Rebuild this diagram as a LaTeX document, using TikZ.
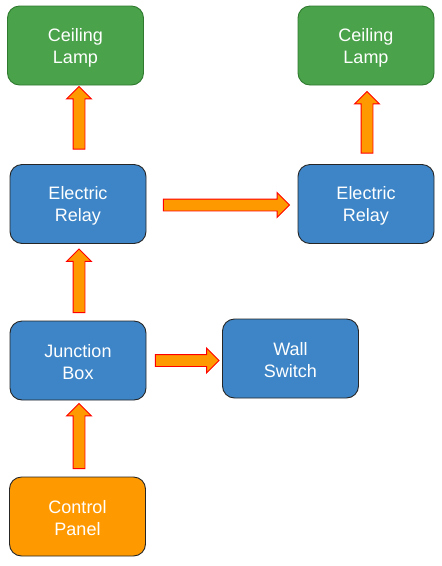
\documentclass[tikz,border=0pt]{standalone}
\usepackage{fontspec}
\setmainfont{Liberation Sans}
\usepackage{xcolor}
\usetikzlibrary{arrows.meta,positioning,calc,shapes.arrows}

\definecolor{lampgreen}{HTML}{4AA24A}
\definecolor{lampedge}{HTML}{2F7A2F}
\definecolor{relayblue}{HTML}{3D85C6}
\definecolor{panelorange}{HTML}{FF9900}

% block arrow between two points
\newcommand{\flow}[2]{%
  \path let \p1=(#1), \p2=(#2),
    \n1={veclen(\x2-\x1,\y2-\y1)}, \n2={atan2(\y2-\y1,\x2-\x1)} in
    node[flow, minimum height=\n1, rotate=\n2] at ($(\p1)!0.5!(\p2)$) {};}
% two-line label, nudged down a little
\newcommand{\twoline}[2]{\rule{0pt}{17pt}#1\\#2}

\begin{document}
\begin{tikzpicture}[
  x=1pt, y=1pt,
  font=\fontsize{18}{22}\selectfont,
  unit/.style={draw, rounded corners=12pt, align=center, text=white,
               minimum width=136pt, minimum height=79pt, inner sep=2pt,
               line width=0.9pt},
  lamp/.style={unit, fill=lampgreen, draw=lampedge},
  relay/.style={unit, fill=relayblue, draw=black!85},
  panel/.style={unit, fill=panelorange, draw=black!85},
  flow/.style={single arrow, fill=panelorange, draw=red, line width=0.9pt,
               inner xsep=0pt, inner ysep=5.5pt, single arrow head extend=6.5pt,
               shape border uses incircle=false}
]
\useasboundingbox (0,0) rectangle (442,-566);

\node[lamp]  (lampL)    at (75.5,-45.5) {\twoline{Ceiling}{Lamp}};
\node[lamp]  (lampR)    at (366,-45.5)  {\twoline{Ceiling}{Lamp}};
\node[relay] (relayL)   at (78,-204)    {\twoline{Electric}{Relay}};
\node[relay] (relayR)   at (366,-204)   {\twoline{Electric}{Relay}};
\node[relay] (junction) at (78,-360.5)  {\twoline{Junction}{Box}};
\node[relay] (wall)     at (290.5,-358.5) {\twoline{Wall}{Switch}};
\node[panel] (ctrl)     at (77.5,-516.5) {\twoline{Control}{Panel}};

\flow{$(ctrl.north)+(1.5,5)$}{$(junction.south)+(1,-6)$}
\flow{$(junction.north)+(1,5)$}{$(relayL.south)+(1,-8)$}
\flow{$(junction.east)+(6,0)$}{$(wall.west |- junction.east)+(-6,0)$}
\flow{$(relayL.north)+(1,12)$}{$(relayL.north |- lampL.south)+(1,-4)$}
\flow{$(relayL.east)+(14,-1)$}{$(relayR.west)+(-11,-1)$}
\flow{$(relayR.north)+(1,8)$}{$(lampR.south)+(1,-9)$}
\end{tikzpicture}
\end{document}
